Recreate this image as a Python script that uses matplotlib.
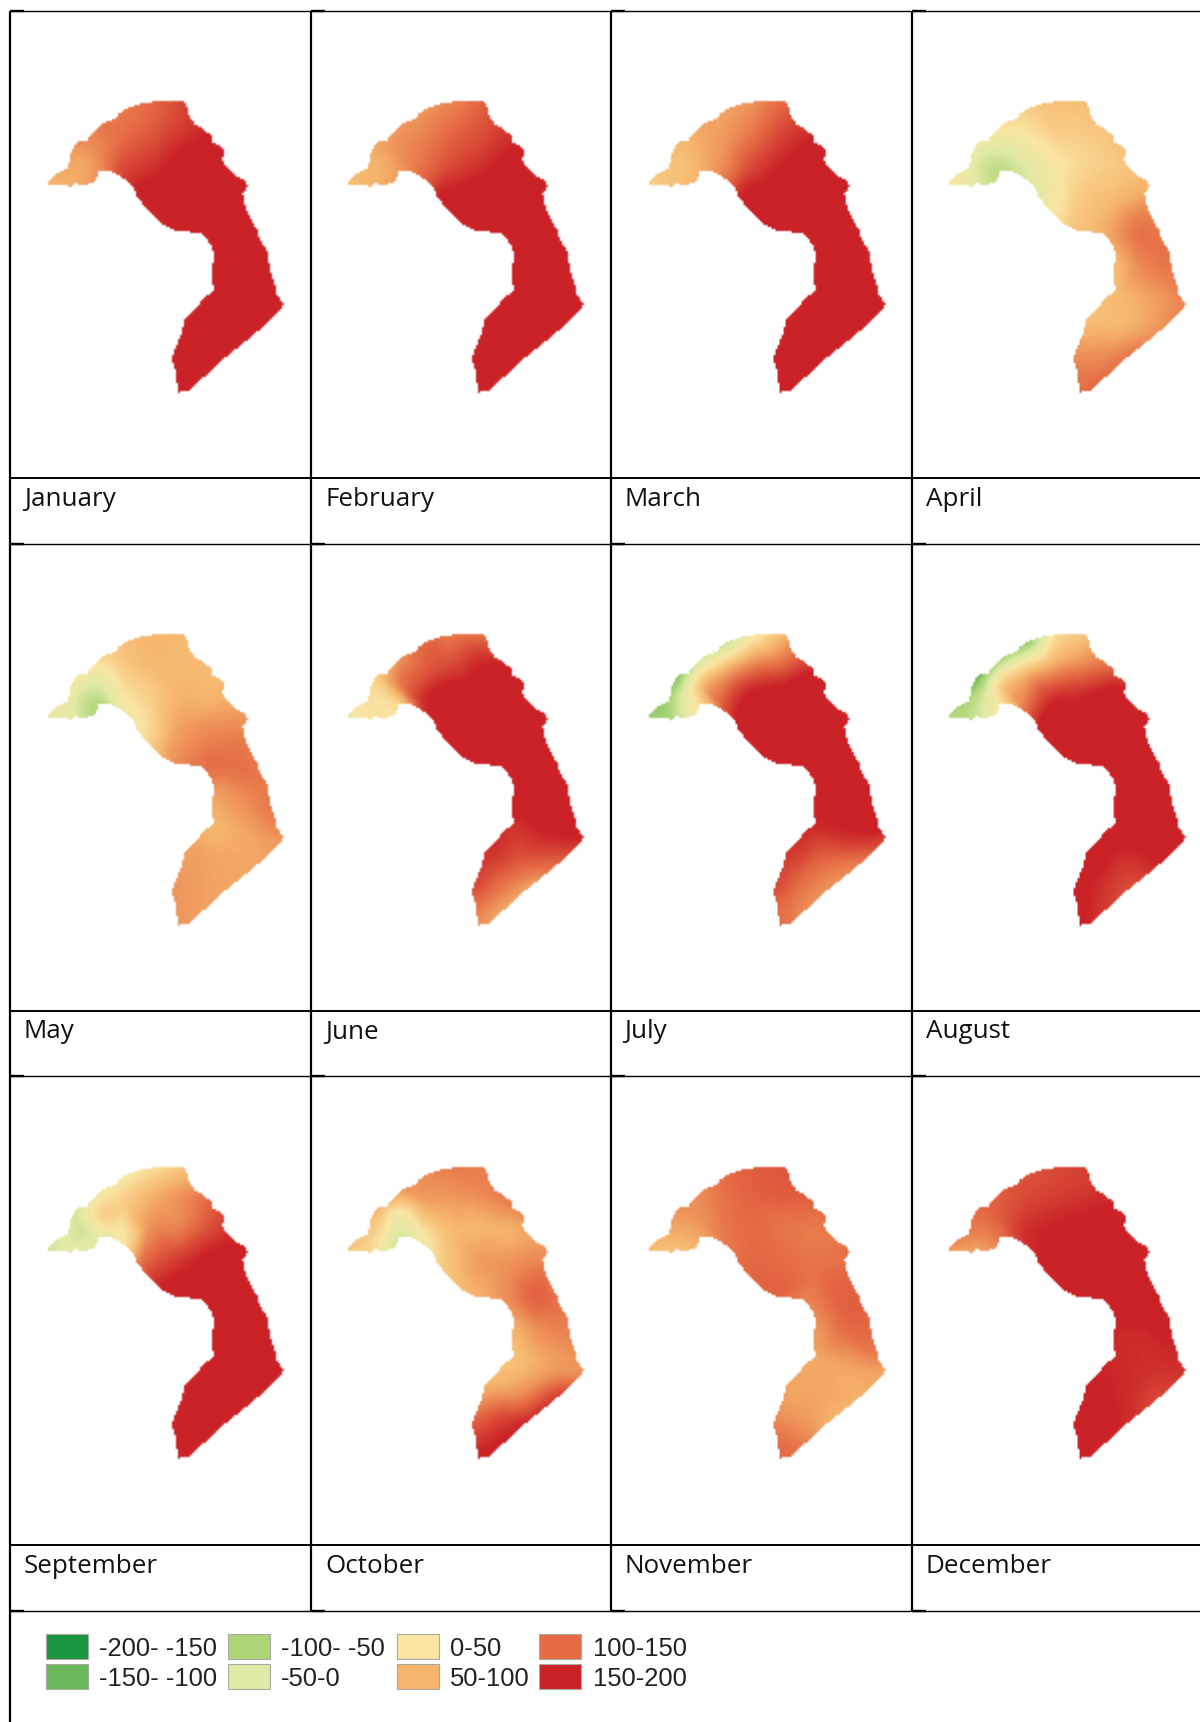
import numpy as np
import matplotlib
matplotlib.use('Agg')
import matplotlib.pyplot as plt
import matplotlib.tri as mtri
from matplotlib.colors import LinearSegmentedColormap
from matplotlib.patches import Rectangle
from matplotlib.path import Path

# catchment outline, traced on a 3x crop of the January panel
outline_x = [142, 146, 156, 170, 182, 195, 205, 207, 208, 216, 222, 238, 262, 268, 282, 292, 305, 320, 345, 356,
             372, 392, 415, 440, 465, 490, 520, 548, 556, 562, 568, 578, 588, 610, 622, 632, 637, 660, 672, 670,
             662, 675, 690, 704, 722, 735, 742, 735, 727, 730, 738, 750, 762, 770, 778, 795, 804, 806, 812, 820,
             826, 830, 848, 838, 820, 795, 765, 740, 710, 680, 650, 625, 600, 585, 570, 550, 535, 532, 525, 525,
             518, 518, 528, 540, 548, 550, 575, 590, 610, 630, 642, 635, 632, 640, 638, 632, 615, 600, 570, 530,
             510, 490, 470, 450, 430, 415, 405, 402, 385, 365, 345, 330, 315, 298, 290, 285, 265, 250, 225, 212, 195]
outline_y = [375, 362, 350, 342, 335, 328, 322, 300, 285, 270, 255, 244, 241, 228, 215, 203, 192, 184, 176, 162,
             150, 140, 133, 128, 125, 121, 121, 120, 130, 148, 170, 185, 197, 207, 218, 228, 250, 256, 270, 288,
             298, 315, 333, 345, 355, 365, 378, 390, 397, 425, 450, 470, 495, 510, 540, 565, 582, 610, 640, 665,
             680, 705, 732, 752, 772, 795, 820, 840, 865, 888, 915, 940, 960, 975, 992, 990, 1000, 975, 955, 930,
             910, 885, 860, 830, 800, 778, 755, 740, 715, 700, 688, 660, 625, 605, 575, 555, 530, 518, 516, 515,
             505, 495, 475, 455, 435, 418, 400, 382, 368, 352, 340, 335, 335, 330, 348, 365, 372, 376, 370, 382, 375]

# where the map values were read, same crop coordinates
station_x = [125, 210, 190, 225, 250, 300, 295, 300, 370, 370, 370, 450, 450, 450, 430, 550, 540, 540, 530, 520, 640,
             640, 630, 760, 620, 705, 790, 640, 720, 830, 640, 740, 860, 560, 660, 770, 510, 600, 690, 510, 600, 530]
station_y = [385, 395, 320, 250, 310, 345, 270, 195, 140, 230, 335, 115, 210, 310, 420, 105, 200, 300, 400, 520, 225,
             310, 420, 370, 530, 510, 570, 620, 620, 690, 700, 730, 735, 770, 800, 820, 880, 880, 890, 950, 960, 1010]

january = [75, 80, 85, 100, 85, 105, 105, 115, 115, 125, 150, 125, 135, 160, 185, 150, 155, 180, 190, 190, 175,
           190, 190, 190, 190, 190, 190, 190, 190, 190, 190, 190, 190, 190, 190, 190, 190, 190, 190, 190, 190, 190]
february = [65, 75, 75, 85, 80, 95, 100, 95, 95, 110, 125, 105, 125, 145, 180, 130, 140, 160, 185, 190, 165,
            185, 190, 190, 190, 190, 190, 190, 190, 190, 190, 190, 190, 190, 190, 190, 190, 190, 190, 190, 190, 190]
march = [45, 65, 60, 70, 65, 80, 80, 85, 85, 95, 110, 95, 115, 145, 180, 120, 145, 170, 190, 190, 170,
         190, 190, 190, 190, 190, 190, 190, 190, 190, 190, 190, 190, 190, 190, 190, 190, 190, 190, 190, 190, 190]
april = [30, -10, 10, 10, -40, -60, -25, 35, 50, 20, -30, 65, 50, 15, 0, 70, 55, 40, 50, 60, 65,
         55, 70, 75, 85, 118, 120, 70, 105, 110, 70, 85, 110, 65, 75, 100, 100, 100, 120, 115, 125, 125]
may = [-20, -15, 5, 20, -40, -70, -20, 40, 65, 50, 10, 75, 70, 50, 30, 75, 70, 75, 85, 100, 70,
       75, 105, 95, 120, 122, 115, 85, 100, 110, 75, 85, 95, 90, 85, 85, 95, 90, 85, 95, 90, 95]
june = [-20, 25, 30, 50, 35, 45, 110, 100, 125, 135, 165, 110, 145, 190, 190, 105, 165, 190, 190, 190, 175,
        190, 190, 190, 190, 190, 190, 190, 190, 185, 165, 170, 170, 165, 140, 125, 145, 120, 85, 115, 85, 95]
july = [-85, -70, -90, -110, -10, 40, 55, -45, -60, 75, 140, 0, 100, 180, 190, 60, 115, 185, 190, 190, 165,
        190, 190, 190, 190, 190, 190, 190, 190, 185, 170, 165, 155, 160, 130, 110, 145, 120, 95, 125, 105, 125]
august = [-70, -50, -80, -130, -30, 30, 40, -80, -110, 55, 115, 15, 75, 160, 190, 50, 95, 165, 190, 190, 130,
          190, 190, 190, 190, 190, 190, 190, 190, 190, 190, 185, 190, 190, 165, 170, 185, 165, 145, 180, 160, 175]
september = [-50, -10, -25, -35, -35, -10, 40, 10, 10, 50, 25, 25, 75, 100, 130, 45, 95, 110, 155, 190, 130,
             150, 185, 190, 190, 190, 190, 190, 190, 190, 190, 190, 190, 190, 190, 190, 190, 190, 190, 190, 190, 190]
october = [60, 40, 60, 80, 30, -40, 10, 95, 105, 85, 20, 115, 95, 70, 55, 115, 105, 75, 90, 75, 115,
           80, 100, 100, 100, 130, 115, 75, 100, 100, 65, 90, 100, 75, 100, 160, 130, 150, 175, 160, 180, 185]
november = [70, 60, 80, 100, 85, 85, 100, 105, 125, 120, 115, 135, 130, 125, 125, 140, 135, 120, 125, 130, 130,
            115, 120, 120, 110, 130, 130, 95, 120, 110, 85, 85, 85, 85, 85, 78, 105, 95, 78, 125, 115, 125]
december = [95, 80, 115, 125, 115, 120, 135, 135, 140, 150, 165, 145, 155, 175, 175, 150, 160, 180, 190, 180, 170,
            185, 190, 175, 180, 190, 185, 170, 170, 170, 170, 165, 160, 175, 170, 150, 180, 180, 165, 180, 180, 180]

month_names = ['January', 'February', 'March', 'April', 'May', 'June',
               'July', 'August', 'September', 'October', 'November', 'December']
month_values = [january, february, march, april, may, june,
                july, august, september, october, november, december]

legend_labels = ['-200- -150', '-150- -100', '-100- -50', '-50-0', '0-50', '50-100', '100-150', '150-200']
legend_colors = ['#1a9641', '#6ab85a', '#add578', '#e0eaa5', '#fae5a3', '#f6b66d', '#e56c45', '#ca2227']
class_middles = [-175, -125, -75, -25, 25, 75, 125, 175]

# table rules and panel offsets, in output pixels
col_lines = [10, 311, 610.5, 912]
row_top_lines = [11, 544, 1076, 1611]
row_mid_lines = [477.5, 1010.5, 1545]
map_dx = [0, 300.8, 601.5, 901.5]
map_dy = [0, 533, 1066]

node_pos = [(v + 200) / 400 for v in class_middles]
node_pos = [0.0] + node_pos + [1.0]
node_colors = [legend_colors[0]] + legend_colors + [legend_colors[-1]]
cmap = LinearSegmentedColormap.from_list('precip', list(zip(node_pos, node_colors)))

fig = plt.figure(figsize=(12, 17.22), dpi=100)
ax = fig.add_axes([0, 0, 1, 1])
ax.set_xlim(0, 1200)
ax.set_ylim(1722, 0)
ax.axis('off')

# one map cell is 2 output pixels, like the coarse raster of the source map
triang = mtri.Triangulation(station_x, station_y)
grid_x, grid_y = np.meshgrid(np.arange(110, 875, 6), np.arange(90, 1025, 6))
outline = Path(np.column_stack([outline_x, outline_y]))
inside = outline.contains_points(np.column_stack([grid_x.ravel(), grid_y.ravel()])).reshape(grid_x.shape)

# nearest station for the cells outside the triangulation
dist = (grid_x[..., None] - np.array(station_x)) ** 2 + (grid_y[..., None] - np.array(station_y)) ** 2
nearest = dist.argmin(axis=2)

for i, (name, values) in enumerate(zip(month_names, month_values)):
    col = i % 4
    row = i // 4
    x0 = map_dx[col]
    y0 = 60 + map_dy[row]

    values = np.array(values, dtype=float)
    interp = mtri.CubicTriInterpolator(triang, values, kind='geom')
    field = interp(grid_x, grid_y)
    field = np.where(np.ma.getmaskarray(field), values[nearest], field.data)
    extent = (x0 + grid_x.min() / 3 - 1, x0 + grid_x.max() / 3 + 1, y0 + grid_y.max() / 3 + 1, y0 + grid_y.min() / 3 - 1)
    ax.imshow(field, cmap=cmap, vmin=-200, vmax=200, extent=extent, aspect='auto', alpha=inside.astype(float),
              interpolation='bilinear', origin='upper', zorder=1)

    ax.text(col_lines[col] + 14, row_mid_lines[row] + 28, name, family='Open Sans', fontsize=18.7,
            color='#111111', va='baseline', ha='left', zorder=3)

ax.set_xlim(0, 1200)
ax.set_ylim(1722, 0)

# table rules
for y in row_top_lines:
    ax.plot([10, 1200], [y, y], color='black', lw=1.0, solid_capstyle='butt', zorder=2)
    for x in col_lines:
        ax.plot([x, x + 14], [y, y], color='black', lw=1.7, solid_capstyle='butt', zorder=2)
for y in row_mid_lines:
    ax.plot([10, 1200], [y, y], color='black', lw=1.4, solid_capstyle='butt', zorder=2)
for x in col_lines[1:]:
    ax.plot([x, x], [11, 1611], color='black', lw=1.6, solid_capstyle='butt', zorder=2)
ax.plot([10, 10], [11, 1722], color='black', lw=1.6, solid_capstyle='butt', zorder=2)

# legend, two rows per column
swatch_x = [46, 228, 397, 539]
label_x = [99, 281, 450, 593]
swatch_y = [1634, 1664]
for k, (label, color) in enumerate(zip(legend_labels, legend_colors)):
    c = k // 2
    r = k % 2
    ax.add_patch(Rectangle((swatch_x[c], swatch_y[r]), 42, 25, facecolor=color, edgecolor='#a9a9a0', lw=0.8, zorder=2))
    ax.text(label_x[c], swatch_y[r] + 22.5, label, family='Liberation Sans', fontsize=18.4,
            color='#222222', va='baseline', ha='left', zorder=3)

fig.savefig('out.png', dpi=100)
